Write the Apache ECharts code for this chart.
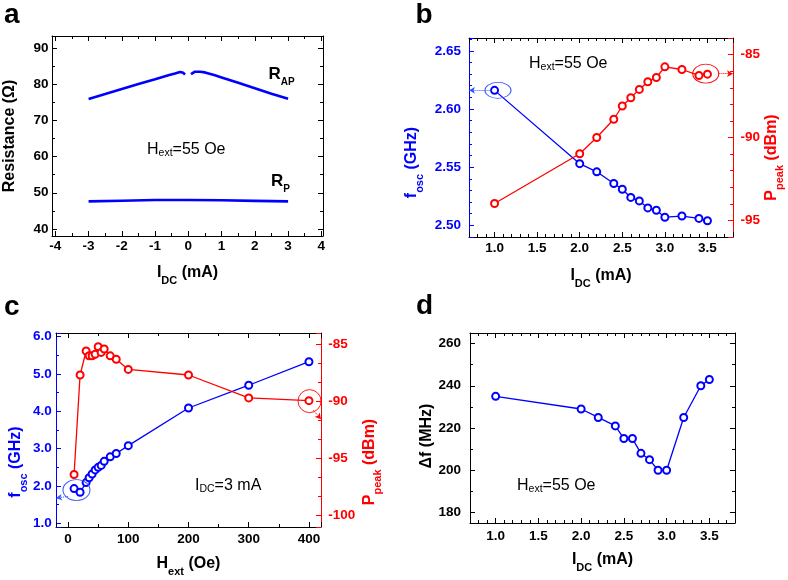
<!DOCTYPE html>
<html><head><meta charset="utf-8">
<script src="https://cdn.jsdelivr.net/npm/echarts@6/dist/echarts.min.js"></script>
<style>html,body{margin:0;padding:0;background:#fff}#c{width:788px;height:580px}</style>
</head><body><div id="c"></div>
<script>
// ---------- Panel a : resistance vs current ----------
const aCurrentAP = [-3, -2.5, -2, -1.5, -1, -0.6, -0.4, -0.25, -0.15, -0.1, 0, 0.08, 0.12, 0.2, 0.35, 0.5, 0.8, 1, 1.5, 2, 2.5, 3];
const aResAP     = [76.05, 77.4, 78.8, 80.2, 81.5, 82.6, 83.1, 83.5, 83.3, 82.8, '-', 82.9, 83.4, 83.6, 83.6, 83.4, 82.6, 82.0, 80.5, 79.0, 77.5, 76.1];
const aCurrentP  = [-3, -2, -1, 0, 1, 2, 3];
const aResP      = [47.6, 47.8, 48.0, 48.0, 47.9, 47.75, 47.6];
// ---------- Panel b : f_osc and P_peak vs I_DC ----------
const bCurrent = [1.0, 2.0, 2.2, 2.4, 2.5, 2.6, 2.7, 2.8, 2.9, 3.0, 3.2, 3.4, 3.5];
const bFreq    = [2.616, 2.553, 2.546, 2.536, 2.531, 2.524, 2.521, 2.515, 2.513, 2.507, 2.508, 2.506, 2.504];
const bPower   = [-93.98, -90.98, -90.0, -88.9, -88.1, -87.6, -87.1, -86.64, -86.38, -85.74, -85.9, -86.26, -86.18];
// ---------- Panel c : f_osc and P_peak vs H_ext ----------
const cField = [10, 20, 30, 35, 40, 45, 50, 55, 60, 70, 80, 100, 200, 300, 400];
const cFreq  = [1.93, 1.83, 2.09, 2.22, 2.32, 2.43, 2.50, 2.55, 2.66, 2.78, 2.87, 3.08, 4.09, 4.70, 5.33];
const cPower = [-96.4, -87.68, -85.58, -85.99, -85.99, -85.87, -85.2, -85.7, -85.4, -86.0, -86.3, -87.19, -87.68, -89.69, -89.93];
// ---------- Panel d : linewidth vs I_DC ----------
const dCurrent   = [1.0, 2.0, 2.2, 2.4, 2.5, 2.6, 2.7, 2.8, 2.9, 3.0, 3.2, 3.4, 3.5];
const dLinewidth = [235, 229, 225, 221, 215, 215, 208, 205, 200, 200, 225, 240, 243];

const FONT = 'Liberation Sans, Arial, Helvetica, sans-serif';
const BLUE = '#0000ff', RED = '#ff0000', BLACK = '#000000';
const zip = (xs, ys) => xs.map((x, i) => [x, ys[i]]);

function axis(o) {
  const color = o.color || BLACK;
  return {
    type: 'value', gridIndex: o.grid, position: o.pos,
    min: o.min, max: o.max, minInterval: o.step, maxInterval: o.step, splitNumber: 5,
    axisLine: { show: true, onZero: false, lineStyle: { color, width: 1 } },
    axisTick: { show: true, inside: true, length: 5, lineStyle: { color, width: 1 } },
    minorTick: { show: true, splitNumber: o.minor, length: 3, lineStyle: { color, width: 1 } },
    splitLine: { show: false }, minorSplitLine: { show: false },
    axisLabel: {
      show: !!o.label, color, fontFamily: FONT, fontWeight: 'bold', fontSize: 13.5,
      margin: o.margin == null ? 5 : o.margin, showMinLabel: false, showMaxLabel: false,
      formatter: o.fmt ? (v => v.toFixed(o.fmt)) : (v => String(v))
    },
    name: o.name || '', nameLocation: 'middle', nameGap: o.gap || 30,
    nameRotate: o.rot, 
    nameTextStyle: o.name ? {
      padding: o.pad || 0,
      rich: {
        m: { fontSize: 16, fontWeight: 'bold', fontFamily: FONT, lineHeight: 16, verticalAlign: 'top', color },
        s: { fontSize: 11, fontWeight: 'bold', fontFamily: FONT, lineHeight: 11, verticalAlign: 'top', padding: [10.5, 0, 0, 0], color }
      }
    } : undefined
  };
}

const xAxes = [
  axis({ grid: 0, pos: 'bottom', min: -4.1, max: 4.05, step: 1, minor: 2, label: true, margin: 3, name: '{m|I}{s|DC}{m| (mA)}', gap: 29 }),
  axis({ grid: 0, pos: 'top', min: -4.1, max: 4.05, step: 1, minor: 2 }),
  axis({ grid: 1, pos: 'bottom', min: 0.7, max: 3.8, step: 0.5, minor: 5, label: true, fmt: 1, margin: 4, name: '{m|I}{s|DC}{m| (mA)}', gap: 31 }),
  axis({ grid: 1, pos: 'top', min: 0.7, max: 3.8, step: 0.5, minor: 5 }),
  axis({ grid: 2, pos: 'bottom', min: -20, max: 420, step: 100, minor: 2, label: true, margin: 5.5, name: '{m|H}{s|ext}{m| (Oe)}', gap: 28.5 }),
  axis({ grid: 2, pos: 'top', min: -20, max: 420, step: 100, minor: 2 }),
  axis({ grid: 3, pos: 'bottom', min: 0.7, max: 3.8, step: 0.5, minor: 5, label: true, fmt: 1, margin: 6, name: '{m|I}{s|DC}{m| (mA)}', gap: 29 }),
  axis({ grid: 3, pos: 'top', min: 0.7, max: 3.8, step: 0.5, minor: 5 })
];
const yAxes = [
  axis({ grid: 0, pos: 'left', min: 38, max: 93.5, step: 10, minor: 2, label: true, margin: 3.5, name: '{m|Resistance (Ω)}', gap: 34, rot: 90 }),
  axis({ grid: 0, pos: 'right', min: 38, max: 93.5, step: 10, minor: 2 }),
  axis({ grid: 1, pos: 'left', min: 2.49, max: 2.661, step: 0.05, minor: 5, label: true, fmt: 2, margin: 8, color: BLUE, name: '{m|f}{s|osc}{m| (GHz)}', gap: 49.5, rot: 90, pad: [0, 50, 0, 0] }),
  axis({ grid: 1, pos: 'right', min: -96, max: -84, step: 5, minor: 5, label: true, margin: 7.5, color: RED, name: '{m|P}{s|peak}{m| (dBm)}', gap: 29, rot: 90, pad: [0, 40, 0, 0] }),
  axis({ grid: 2, pos: 'left', min: 0.9, max: 6.1, step: 1, minor: 2, label: true, fmt: 1, margin: 4.3, color: BLUE, name: '{m|f}{s|osc}{m| (GHz)}', gap: 30, rot: 90, pad: [0, 64, 0, 0] }),
  axis({ grid: 2, pos: 'right', min: -101, max: -84, step: 5, minor: 3, label: true, margin: 7.3, color: RED, name: '{m|P}{s|peak}{m| (dBm)}', gap: 41, rot: 90, pad: [0, 64, 0, 0] }),
  axis({ grid: 3, pos: 'left', min: 175, max: 265, step: 20, minor: 2, label: true, margin: 9, name: '{m|Δf (MHz)}', gap: 34, rot: 90, pad: [0, 16, 0, 0] }),
  axis({ grid: 3, pos: 'right', min: 175, max: 265, step: 20, minor: 2 })
];

const ellipse = 'path://M0,50 A50,50 0 1,1 100,50 A50,50 0 1,1 0,50 Z';
function marker(color) {
  return {
    type: 'line', symbol: 'emptyCircle', symbolSize: 7,
    lineStyle: { color, width: 1.3 },
    itemStyle: { color, borderColor: color, borderWidth: 1.3 }
  };
}
function annot(color, center, size, from, to) {
  return {
    markPoint: {
      silent: true, symbol: ellipse, symbolSize: size, label: { show: false },
      itemStyle: { color: 'rgba(0,0,0,0)', borderColor: color, borderWidth: 0.9 },
      data: [{ coord: center }]
    },
    markLine: {
      silent: true, symbol: ['none', 'arrow'], symbolSize: [5, 6], label: { show: false },
      lineStyle: { color, width: 1, type: 'dotted' },
      emphasis: { disabled: true },
      data: [[{ coord: from }, { coord: to }]]
    }
  };
}

const series = [
  { type: 'line', xAxisIndex: 0, yAxisIndex: 0, data: zip(aCurrentAP, aResAP), symbol: 'none', connectNulls: false, lineStyle: { color: BLUE, width: 2.6 } },
  { type: 'line', xAxisIndex: 0, yAxisIndex: 0, data: zip(aCurrentP, aResP), symbol: 'none', lineStyle: { color: BLUE, width: 2.6 } },
  Object.assign(marker(BLUE), { xAxisIndex: 2, yAxisIndex: 2, data: zip(bCurrent, bFreq) },
    annot('#3355ff', [1.04, 2.616], [26, 16], [0.965, 2.616], [0.7, 2.616])),
  Object.assign(marker(RED), { xAxisIndex: 2, yAxisIndex: 3, data: zip(bCurrent, bPower) },
    annot(RED, [3.48, -86.15], [26, 19], [3.64, -86.15], [3.8, -86.15])),
  Object.assign(marker(BLUE), { xAxisIndex: 4, yAxisIndex: 4, data: zip(cField, cFreq) },
    annot('#3355ff', [14, 1.89], [27, 21], [0, 1.72], [-20, 1.675])),
  Object.assign(marker(RED), { xAxisIndex: 4, yAxisIndex: 5, data: zip(cField, cPower) },
    annot(RED, [401, -89.97], [23, 23], [407, -90.75], [420, -91.56])),
  Object.assign(marker(BLUE), { xAxisIndex: 6, yAxisIndex: 6, data: zip(dCurrent, dLinewidth) })
];

const annRich = {
  m: { fontSize: 16, fontFamily: FONT, lineHeight: 16, verticalAlign: 'top', color: BLACK },
  s: { fontSize: 10.5, fontFamily: FONT, lineHeight: 10.5, verticalAlign: 'top', padding: [6, 0, 0, 0], color: BLACK }
};
const rRich = {
  m: { fontSize: 17, fontWeight: 'bold', fontFamily: FONT, lineHeight: 17, verticalAlign: 'top', color: BLACK },
  s: { fontSize: 10, fontWeight: 'bold', fontFamily: FONT, lineHeight: 10, verticalAlign: 'top', padding: [12, 0, 0, 0], color: BLACK }
};
function txt(x, y, text, rich) {
  return { type: 'text', x, y, silent: true, style: { text, rich, align: 'left', verticalAlign: 'top' } };
}
function letter(x, y, t) {
  return { type: 'text', x, y, silent: true, style: { text: t, fontSize: 28, fontWeight: 'bold', fontFamily: FONT, fill: BLACK, align: 'left', verticalAlign: 'middle' } };
}

const option = {
  animation: false,
  backgroundColor: '#ffffff',
  grid: [
    { left: 52, top: 36, width: 271, height: 200 },
    { left: 469, top: 38, width: 264, height: 199 },
    { left: 56, top: 333, width: 265, height: 194 },
    { left: 470, top: 333, width: 265, height: 190 }
  ],
  xAxis: xAxes,
  yAxis: yAxes,
  series,
  graphic: [
    letter(4, 15, 'a'), letter(415.5, 15, 'b'), letter(4, 307, 'c'), letter(416, 306.7, 'd'),
    txt(147, 142, '{m|H}{s|ext}{m|=55 Oe}', annRich),
    txt(529, 56, '{m|H}{s|ext}{m|=55 Oe}', annRich),
    txt(195, 478, '{m|I}{s|DC}{m|=3 mA}', annRich),
    txt(517, 478, '{m|H}{s|ext}{m|=55 Oe}', annRich),
    txt(268.5, 65.5, '{m|R}{s|AP}', rRich),
    txt(271, 172.5, '{m|R}{s|P}', rRich)
  ]
};
const chart = echarts.init(document.getElementById('c'), null, { renderer: 'canvas' });
chart.setOption(option);
</script>
</body></html>
